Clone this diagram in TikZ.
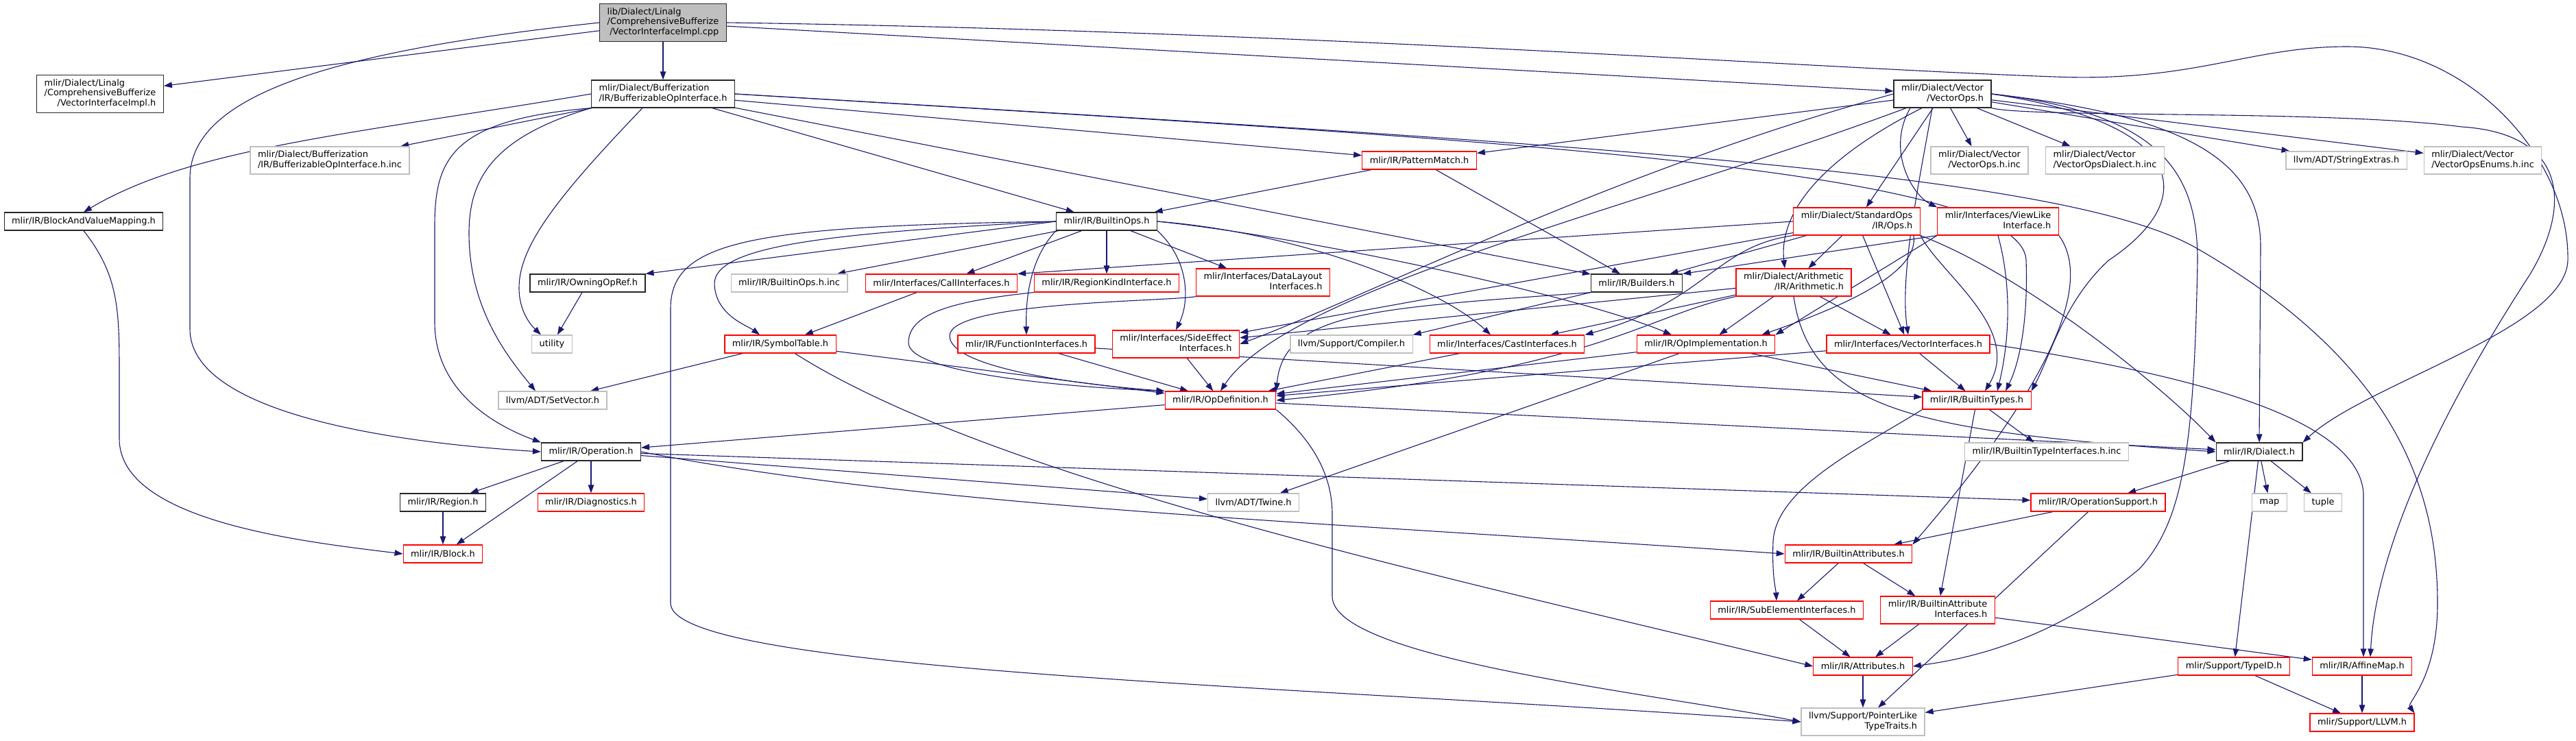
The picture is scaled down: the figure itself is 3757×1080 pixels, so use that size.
\documentclass[tikz,border=0pt]{standalone}
\usepackage{fontspec}
\setmainfont{DejaVu Sans}
\usetikzlibrary{arrows.meta}
\definecolor{edgeblue}{HTML}{191970}
\definecolor{docred}{HTML}{FF0000}
\definecolor{nodocgray}{HTML}{BFBFBF}
\definecolor{curfill}{HTML}{BFBFBF}
\newcommand{\nodefont}{\fontsize{12.9}{14.5}\selectfont}
\newcommand{\twolines}[2]{\begin{tabular}{@{}l@{}}#1\\\hfill#2\hfill\end{tabular}}
\newcommand{\threelines}[3]{\begin{tabular}{@{}l@{}}#1\\#2\\\hfill#3\hfill\end{tabular}}
\pgfdeclarelayer{edges}
\pgfsetlayers{edges,main}
\tikzset{
  file/.style={draw=black!85, fill=white, line width=1.2pt, inner xsep=11pt, inner ysep=2pt, minimum height=26pt, font=\nodefont},
  redfile/.style={file, draw=docred},
  nodoc/.style={file, draw=nodocgray},
  curfile/.style={file, fill=curfill},
  two/.style={minimum height=40pt},
  three/.style={minimum height=55pt},
  inc/.style={draw=edgeblue, line width=1.1pt, -{Triangle[length=12pt,width=8.5pt]}},
}
\begin{document}
\begin{tikzpicture}[x=1pt,y=-1pt]
\useasboundingbox (0,0) rectangle (3757,1080);
% files
\node[curfile,three] (root) at (967,33) {\threelines{lib/Dialect/Linalg}{/ComprehensiveBufferize}{/VectorInterfaceImpl.cpp}};
\node[file,three] (cbh) at (146,137) {\threelines{mlir/Dialect/Linalg}{/ComprehensiveBufferize}{/VectorInterfaceImpl.h}};
\node[file,two] (boi) at (967,137) {\twolines{mlir/Dialect/Bufferization}{/IR/BufferizableOpInterface.h}};
\node[file,two] (vops) at (2833,137) {\twolines{mlir/Dialect/Vector}{/VectorOps.h}};
\node[nodoc,two] (binc) at (481,234) {\twolines{mlir/Dialect/Bufferization}{/IR/BufferizableOpInterface.h.inc}};
\node[redfile] (pmatch) at (2070,234) {mlir/IR/PatternMatch.h};
\node[nodoc,two] (vinc) at (2887,234) {\twolines{mlir/Dialect/Vector}{/VectorOps.h.inc}};
\node[nodoc,two] (vdinc) at (3070,234) {\twolines{mlir/Dialect/Vector}{/VectorOpsDialect.h.inc}};
\node[nodoc] (strext) at (3422,234) {llvm/ADT/StringExtras.h};
\node[nodoc,two] (venum) at (3621,234) {\twolines{mlir/Dialect/Vector}{/VectorOpsEnums.h.inc}};
\node[file] (bavm) at (122,323) {mlir/IR/BlockAndValueMapping.h};
\node[file] (bops) at (1614,323) {mlir/IR/BuiltinOps.h};
\node[redfile,two] (stdops) at (2708,323) {\twolines{mlir/Dialect/StandardOps}{/IR/Ops.h}};
\node[redfile,two] (viewlike) at (2914,323) {\twolines{mlir/Interfaces/ViewLike}{Interface.h}};
\node[file] (owning) at (857,413) {mlir/IR/OwningOpRef.h};
\node[nodoc] (bopsinc) at (1151,413) {mlir/IR/BuiltinOps.h.inc};
\node[redfile] (callif) at (1373,413) {mlir/Interfaces/CallInterfaces.h};
\node[redfile] (regkind) at (1614,413) {mlir/IR/RegionKindInterface.h};
\node[redfile,two] (dlayout) at (1842,412) {\twolines{mlir/Interfaces/DataLayout}{Interfaces.h}};
\node[file] (builders) at (2387,413) {mlir/IR/Builders.h};
\node[redfile,two] (arith) at (2616,412) {\twolines{mlir/Dialect/Arithmetic}{/IR/Arithmetic.h}};
\node[nodoc] (utility) at (805,502) {utility};
\node[redfile] (symtab) at (1138,502) {mlir/IR/SymbolTable.h};
\node[redfile] (funcif) at (1497,502) {mlir/IR/FunctionInterfaces.h};
\node[redfile,two] (sideeff) at (1715,502) {\twolines{mlir/Interfaces/SideEffect}{Interfaces.h}};
\node[nodoc] (compiler) at (1971,502) {llvm/Support/Compiler.h};
\node[redfile] (castif) at (2198,502) {mlir/Interfaces/CastInterfaces.h};
\node[redfile] (opimpl) at (2488,502) {mlir/IR/OpImplementation.h};
\node[redfile] (vecif) at (2783,502) {mlir/Interfaces/VectorInterfaces.h};
\node[nodoc] (setvec) at (806,584) {llvm/ADT/SetVector.h};
\node[redfile] (opdef) at (1780,584) {mlir/IR/OpDefinition.h};
\node[redfile] (btypes) at (2883,584) {mlir/IR/BuiltinTypes.h};
\node[file] (operation) at (862,659) {mlir/IR/Operation.h};
\node[nodoc] (btiinc) at (2985,659) {mlir/IR/BuiltinTypeInterfaces.h.inc};
\node[file] (dialect) at (3295,659) {mlir/IR/Dialect.h};
\node[file] (region) at (646,733) {mlir/IR/Region.h};
\node[redfile] (diag) at (862,733) {mlir/IR/Diagnostics.h};
\node[nodoc] (twine) at (1828,733) {llvm/ADT/Twine.h};
\node[redfile] (opsupp) at (3060,733) {mlir/IR/OperationSupport.h};
\node[nodoc] (map) at (3310,733) {map};
\node[nodoc] (tuple) at (3388,733) {tuple};
\node[redfile] (block) at (646,808) {mlir/IR/Block.h};
\node[redfile] (battr) at (2696,808) {mlir/IR/BuiltinAttributes.h};
\node[redfile] (subel) at (2606,890) {mlir/IR/SubElementInterfaces.h};
\node[redfile,two] (baiface) at (2826,890) {\twolines{mlir/IR/BuiltinAttribute}{Interfaces.h}};
\node[redfile] (attrs) at (2717,972) {mlir/IR/Attributes.h};
\node[redfile] (typeid) at (3258,972) {mlir/Support/TypeID.h};
\node[redfile] (affine) at (3445,972) {mlir/IR/AffineMap.h};
\node[nodoc,two] (ptrlike) at (2717,1053) {\twolines{llvm/Support/PointerLike}{TypeTraits.h}};
\node[redfile] (llvmh) at (3445,1054) {mlir/Support/LLVM.h};
% includes
\begin{pgfonlayer}{edges}
\foreach \a/\b in {root/cbh, root/boi, root/vops, boi/binc, boi/bops, boi/builders, boi/pmatch,
    vops/pmatch, vops/vinc, vops/vdinc, vops/strext, vops/venum, vops/stdops,
    stdops/arith, stdops/builders, stdops/sideeff, stdops/vecif,
    arith/castif, arith/opimpl, arith/vecif, arith/sideeff,
    bops/bopsinc, bops/callif, bops/regkind, bops/dlayout, pmatch/bops, pmatch/builders,
    owning/utility, callif/symtab, symtab/setvec, symtab/opdef, funcif/opdef, funcif/btypes,
    sideeff/opdef, castif/opdef, opimpl/opdef, opimpl/btypes, opimpl/twine, vecif/opdef, vecif/btypes,
    btypes/btiinc, btypes/baiface, opdef/operation, opdef/dialect,
    operation/region, operation/block, operation/diag, operation/twine, operation/opsupp,
    dialect/opsupp, dialect/map, dialect/tuple, dialect/typeid, region/block,
    opsupp/battr, opsupp/ptrlike, battr/subel, battr/baiface, subel/attrs, baiface/attrs,
    baiface/affine, attrs/ptrlike, typeid/ptrlike, typeid/llvmh, affine/llvmh}
  \draw[inc] (\a) -- (\b);
% source file
\draw[inc] (root.west) .. controls (480,75) and (277,140) .. (277,260) -- (277,480) .. controls (277,600) and (560,645) .. (operation.west);
\draw[inc] (root.east) .. controls (1900,45) and (2650,100) .. (2997,112) .. controls (3200,120) and (3280,68) .. (3423,68) .. controls (3600,68) and (3748,230) .. (3745,380) .. controls (3742,480) and (3450,560) .. (dialect.north east);
% BufferizableOpInterface.h
\draw[inc] (boi.west) .. controls (520,195) and (280,215) .. (bavm.north);
\draw[inc] (boi.south west) .. controls (660,175) and (634,230) .. (634,330) -- (634,470) .. controls (634,570) and (720,620) .. (operation.north west);
\draw[inc] (boi.south west) .. controls (720,200) and (684,260) .. (684,340) .. controls (684,450) and (740,520) .. ([xshift=-25pt]setvec.north);
\draw[inc] ([xshift=-30pt]boi.south) .. controls (810,290) and (757,360) .. (757,420) .. controls (757,455) and (775,475) .. ([xshift=-16pt]utility.north);
\draw[inc] (boi.east) .. controls (2100,200) and (2950,240) .. (2955,380) .. controls (2958,470) and (2945,530) .. ([xshift=42pt]btypes.north);
\draw[inc] (boi.east) .. controls (2300,210) and (3000,250) .. (3200,360) .. controls (3480,520) and (3555,700) .. (3555,880) .. controls (3555,990) and (3510,1025) .. (llvmh.north east);
% VectorOps.h
\draw[inc] ([xshift=-47pt]vops.south) .. controls (2750,220) and (2790,285) .. (viewlike.north west);
\draw[inc] ([xshift=-30pt]vops.south) .. controls (2640,240) and (2595,320) .. ([xshift=-13pt]arith.north);
\draw[inc] (vops.west) .. controls (2350,250) and (2000,430) .. (sideeff.east);
\draw[inc] ([xshift=-53pt]vops.south) .. controls (2400,300) and (1880,420) .. (opdef.north);
\draw[inc] ([xshift=-15pt]vops.south) .. controls (2800,260) and (2770,400) .. (vecif.north);
\draw[inc] (vops.east) .. controls (3190,180) and (3210,290) .. (3075,380) .. controls (3010,440) and (2990,520) .. (btypes.north east);
\draw[inc] (vops.east) .. controls (3200,170) and (3297,240) .. (3297,360) -- (dialect.north);
\draw[inc] (vops.east) .. controls (3150,165) and (3205,250) .. (3205,380) .. controls (3200,650) and (3185,760) .. (3120,830) .. controls (3000,930) and (2880,960) .. (attrs.east);
\draw[inc] (vops.south east) .. controls (2960,172) and (3400,160) .. (3590,185) .. controls (3745,195) and (3750,300) .. (3690,400) .. controls (3560,600) and (3465,800) .. ([xshift=12pt]affine.north);
% StandardOps, ViewLikeInterface, Arithmetic
\draw[inc] (stdops.west) -- (callif.north east);
\draw[inc] (stdops.south west) .. controls (2500,360) and (2490,440) .. (castif.north east);
\draw[inc] ([xshift=-10pt]stdops.south east) .. controls (2800,400) and (2680,450) .. ([xshift=-20pt]opimpl.north east);
\draw[inc] (stdops.south east) .. controls (2830,400) and (2950,480) .. ([xshift=12pt]btypes.north);
\draw[inc] (stdops.south east) .. controls (2950,400) and (3150,560) .. (dialect.north west);
\draw[inc] (viewlike.south west) -- (builders.north east);
\draw[inc] (viewlike.south west) -- (opimpl.north east);
\draw[inc] (viewlike.south) .. controls (2935,420) and (2930,500) .. ([xshift=30pt]btypes.north);
\draw[inc] (viewlike.south east) .. controls (3080,450) and (2870,700) .. (battr.north east);
\draw[inc] (arith.south west) .. controls (2400,460) and (2330,540) .. (opdef.east);
\draw[inc] (arith.south) .. controls (2640,600) and (2800,630) .. (dialect.west);
% BuiltinOps.h
\draw[inc] (bops.west) -- (owning.north east);
\draw[inc] (bops.west) .. controls (1200,340) and (1040,360) .. (1042,415) .. controls (1044,460) and (1090,475) .. ([xshift=-30pt]symtab.north);
\draw[inc] (bops.south west) .. controls (1500,380) and (1496,440) .. (funcif.north);
\draw[inc] (bops.south east) .. controls (1735,380) and (1735,440) .. (sideeff.north);
\draw[inc] (bops.east) .. controls (1900,340) and (2100,420) .. ([xshift=-24pt]castif.north);
\draw[inc] (bops.east) .. controls (1900,345) and (2300,430) .. ([xshift=-50pt]opimpl.north);
\draw[inc] (bops.west) .. controls (1100,330) and (978,350) .. (978,450) -- (978,880) .. controls (978,980) and (1900,1000) .. (ptrlike.west);
% the rest
\draw[inc] (builders.south west) -- (compiler.north east);
\draw[inc] (builders.south west) .. controls (2000,450) and (1872,455) .. (opdef.north east);
\draw[inc] (regkind.south west) .. controls (1380,440) and (1325,460) .. (1325,500) .. controls (1325,545) and (1560,565) .. (opdef.north west);
\draw[inc] (dlayout.south west) .. controls (1700,440) and (1385,440) .. (1385,490) .. controls (1385,535) and (1560,560) .. (opdef.north west);
\draw[inc] (symtab) .. controls (1450,700) and (2100,840) .. (attrs.west);
\draw[inc] (vecif.east) .. controls (3150,540) and (3440,600) .. (3447,720) -- ([xshift=2pt]affine.north);
\draw[inc] (btypes.south west) .. controls (2720,650) and (2590,710) .. (2586,790) .. controls (2584,840) and (2590,860) .. ([xshift=-15pt]subel.north);
\draw[inc] (opdef.south east) .. controls (1900,630) and (1943,680) .. (1943,750) -- (1943,870) .. controls (1943,960) and (2400,1010) .. (ptrlike.west);
\draw[inc] (operation.east) .. controls (1350,740) and (1900,760) .. (battr.west);
\draw[inc] (bavm.south) .. controls (172,400) and (174,450) .. (174,540) -- (174,640) .. controls (174,760) and (440,790) .. (block.west);
\end{pgfonlayer}
\end{tikzpicture}
\end{document}
